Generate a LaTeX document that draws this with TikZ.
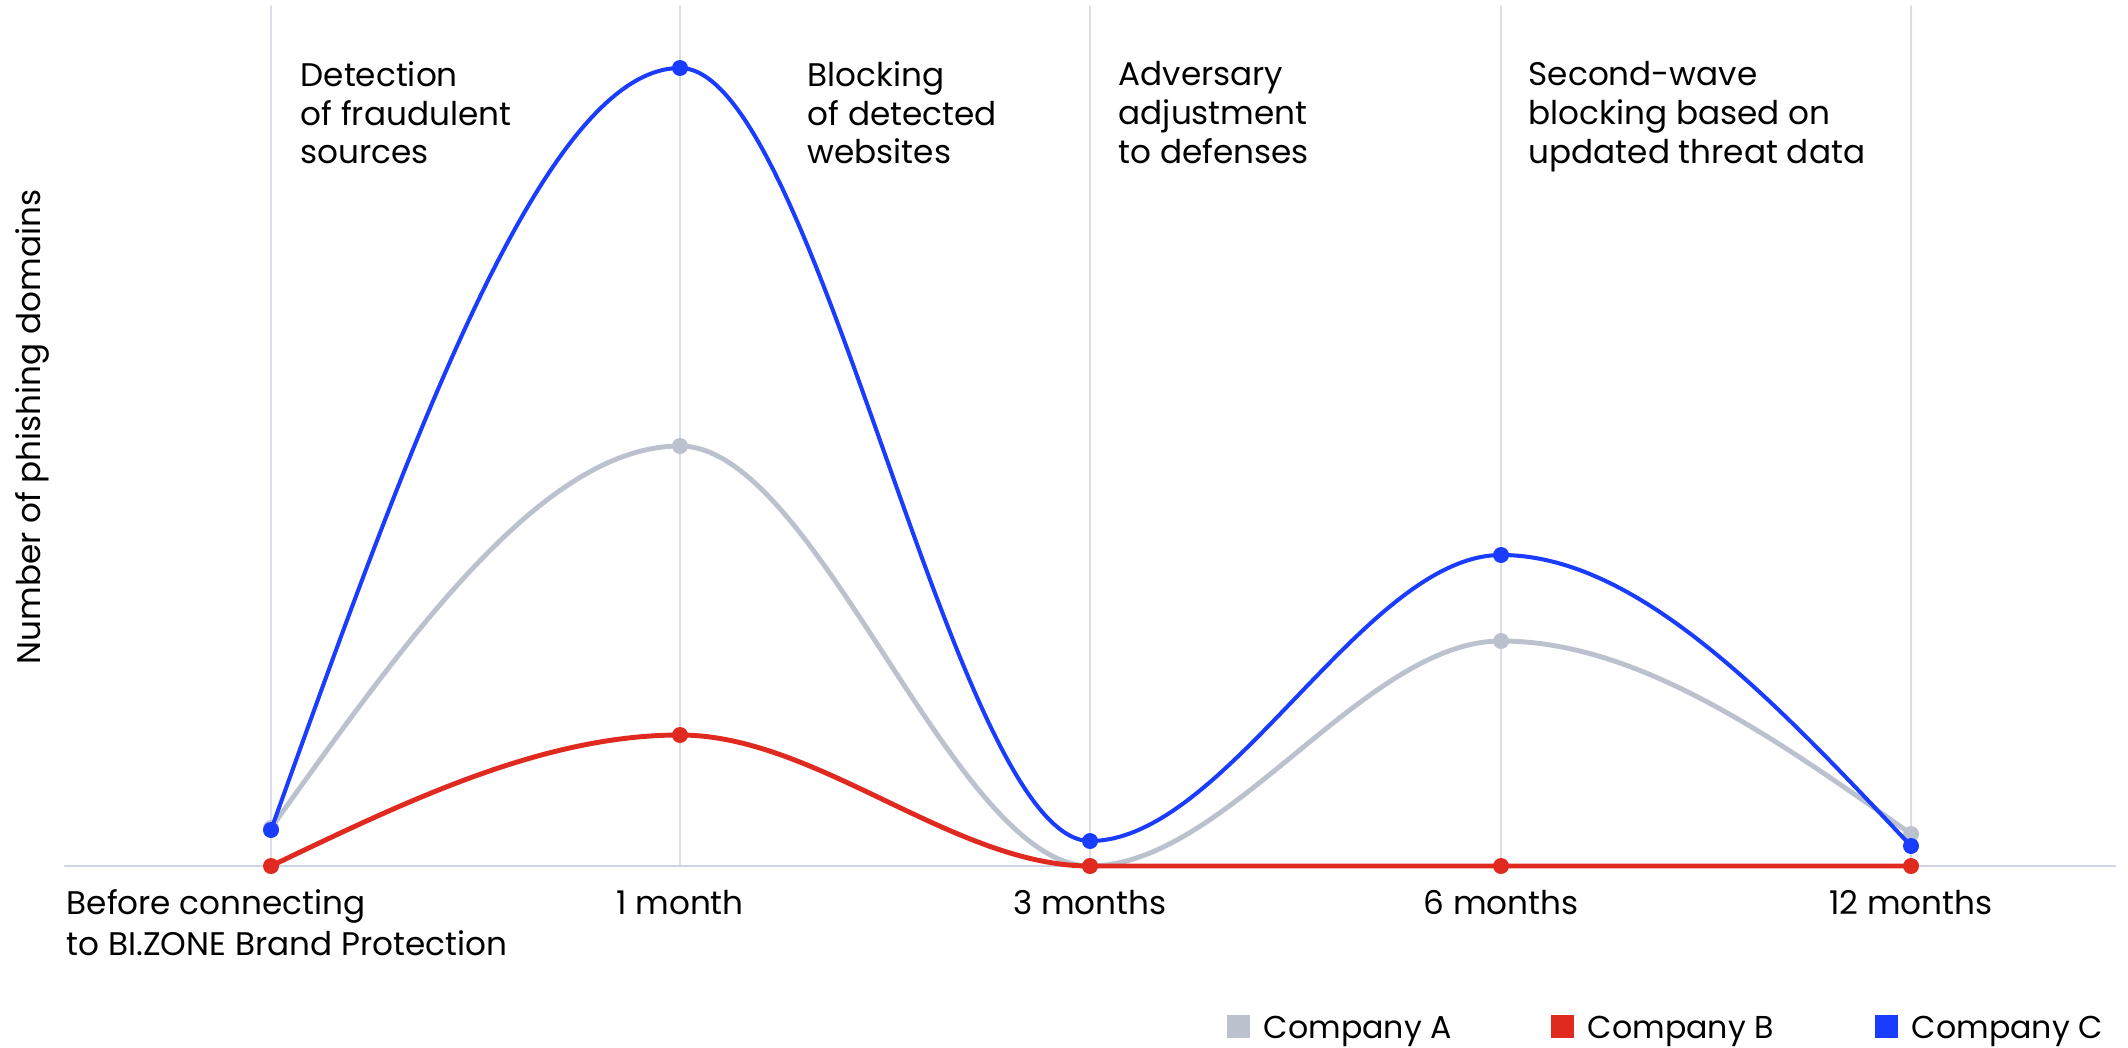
\documentclass[tikz,border=0pt]{standalone}
\usepackage{fontspec}
\setmainfont{Poppins}
\usetikzlibrary{positioning}
\definecolor{compA}{HTML}{BCC1CE}
\definecolor{compB}{HTML}{E0291F}
\definecolor{compC}{HTML}{1A3CFF}
\definecolor{gridcol}{HTML}{D8DDE7}
\definecolor{axiscol}{HTML}{CDD5E4}
\begin{document}
\begin{tikzpicture}[line cap=round, grid line/.style={draw=gridcol,line width=0.55pt}, axis line/.style={draw=axiscol,line width=0.8pt},
  dot/.style={circle,inner sep=0pt,minimum size=0.16cm}, curve/.style={line width=1.4pt},
  phase/.style={align=left,anchor=north west,inner sep=0pt,font=\fontsize{9.3}{11}\selectfont}, tick/.style={font=\fontsize{9.3}{11.6}\selectfont,inner sep=0pt},
  legbox/.style={minimum size=0.23cm,inner sep=0pt}]
\useasboundingbox (0,0) rectangle (21.28,10.47);
\draw[grid line] (2.71,1.81) -- (2.71,10.41);
\draw[grid line] (6.80,1.81) -- (6.80,10.41);
\draw[grid line] (10.90,1.81) -- (10.90,10.41);
\draw[grid line] (15.01,1.81) -- (15.01,10.41);
\draw[grid line] (19.11,1.81) -- (19.11,10.41);
\draw[axis line] (0.65,1.81) -- (21.15,1.81);
\begin{scope}[every node/.style={font=\fontsize{9}{11}\selectfont}]
\node [phase] (detect) at (3.00,9.86) {Detection\\of fraudulent\\sources};
\node [phase] (block) at (8.07,9.86) {Blocking\\of detected\\websites};
\node [phase] (adjust) at (11.18,9.86) {Adversary\\adjustment\\to defenses};
\node [phase] (second) at (15.28,9.86) {Second-wave\\blocking based on\\updated threat data};
\node [tick,anchor=base west,align=left] (t0) at (0.66,0.92) {Before connecting\\to BI.ZONE Brand Protection};
\node [tick,anchor=base] (t1) at (6.80,1.33) {1 month};
\node [tick,anchor=base] (t2) at (10.90,1.33) {3 months};
\node [tick,anchor=base] (t3) at (15.01,1.33) {6 months};
\node [tick,anchor=base] (t4) at (19.11,1.33) {12 months};
\node [rotate=90,font=\fontsize{9.3}{11}\selectfont] (ylab) at (0.32,6.20) {Number of phishing domains};
\node [legbox,fill=compA] (la) at (12.38,0.21) {};
\node [anchor=base west,inner sep=0pt] (ta) at ([xshift=0.13cm]la.south east) {Company A};
\node [legbox,fill=compB] (lb) at (15.62,0.21) {};
\node [anchor=base west,inner sep=0pt] (tb) at ([xshift=0.13cm]lb.south east) {Company B};
\node [legbox,fill=compC] (lc) at (18.86,0.21) {};
\node [anchor=base west,inner sep=0pt] (tc) at ([xshift=0.13cm]lc.south east) {Company C};
\end{scope}
\node [dot,fill=compA] (a0) at (2.71,2.19) {};
\node [dot,fill=compA] (a1) at (6.80,6.01) {};
\node [dot,fill=compA] (a2) at (10.90,1.81) {};
\node [dot,fill=compA] (a3) at (15.01,4.06) {};
\node [dot,fill=compA] (a4) at (19.11,2.13) {};
\draw [curve,compA] (a0.center) .. controls +(1.367,1.91) and +(-1.367,0) .. (a1.center)
  .. controls +(1.367,0) and +(-1.367,0) .. (a2.center)
  .. controls +(1.367,0) and +(-1.367,0) .. (a3.center)
  .. controls +(1.367,0) and +(-1.367,0.965) .. (a4.center);
\node [dot,fill=compB] (b0) at (2.71,1.81) {};
\node [dot,fill=compB] (b1) at (6.80,3.12) {};
\node [dot,fill=compB] (b2) at (10.90,1.81) {};
\node [dot,fill=compB] (b3) at (15.01,1.81) {};
\node [dot,fill=compB] (b4) at (19.11,1.81) {};
\draw [curve,compB] (b0.center) .. controls +(1.367,0.655) and +(-1.367,0) .. (b1.center)
  .. controls +(1.367,0) and +(-1.367,0) .. (b2.center) -- (b3.center) -- (b4.center);
\node [dot,fill=compC] (c0) at (2.71,2.17) {};
\node [dot,fill=compC] (c1) at (6.80,9.79) {};
\node [dot,fill=compC] (c2) at (10.90,2.06) {};
\node [dot,fill=compC] (c3) at (15.01,4.92) {};
\node [dot,fill=compC] (c4) at (19.11,2.01) {};
\draw [curve,compC,line width=1.15pt] (c0.center) .. controls +(1.367,3.81) and +(-1.367,0) .. (c1.center)
  .. controls +(1.367,0) and +(-1.367,0) .. (c2.center)
  .. controls +(1.367,0) and +(-1.367,0) .. (c3.center)
  .. controls +(1.367,0) and +(-1.367,1.455) .. (c4.center);
\end{tikzpicture}
\end{document}
